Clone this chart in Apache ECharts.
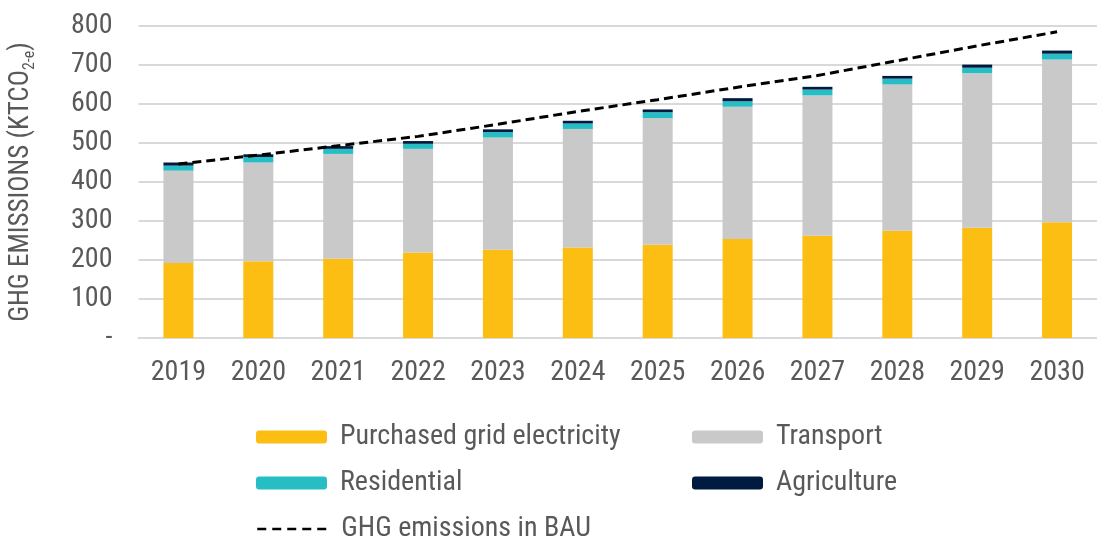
<!DOCTYPE html>
<html>
<head>
<meta charset="utf-8">
<script src="https://cdn.jsdelivr.net/npm/echarts@6/dist/echarts.min.js"></script>
<style>
html,body{margin:0;padding:0;background:#fff;}
#chart{width:1097px;height:542px;}
</style>
</head>
<body>
<div id="chart"></div>
<script>
const categories = ['2019','2020','2021','2022','2023','2024','2025','2026','2027','2028','2029','2030'];
const electricity = [192, 197, 203, 219, 226, 232, 239, 254, 262, 275, 283, 297];
const transport   = [237, 253, 269, 266, 288, 304, 325, 339, 360, 375, 396, 417];
const residential = [13, 14, 13, 13, 14, 14, 15, 14, 15, 15, 14, 15];
const agriculture = [8, 7, 7, 7, 7, 7, 7, 8, 7, 7, 8, 8];
const bau         = [446, 469, 493, 517, 548, 581, 611, 643, 673, 711, 749, 785];

const FONT = '"Liberation Sans Narrow", "Roboto Condensed", "DejaVu Sans Condensed", sans-serif';
const TXT = '#595959';

const chart = echarts.init(document.getElementById('chart'), null, {renderer: 'canvas'});

function bar(name, data, color) {
  return {
    name: name, type: 'bar', stack: 'total', data: data,
    barWidth: 30,
    itemStyle: {color: color},
    emphasis: {disabled: true}
  };
}

function legendAt(name, left, top, isLine) {
  const l = {
    data: [name], left: left, top: top,
    itemWidth: 71, itemHeight: isLine ? 14 : 13,
    padding: 0,
    textStyle: {fontFamily: FONT, fontSize: 28, color: TXT, padding: [0, 0, 0, 8]},
    selectedMode: false
  };
  if (isLine) {
    l.itemStyle = {opacity: 0};
    l.lineStyle = {color: '#000', width: 2.5, type: [9, 6]};
  }
  return l;
}

chart.setOption({
  animation: false,
  grid: {left: 134, right: -3, top: 26, bottom: 204, containLabel: false},
  legend: [
    legendAt('Purchased grid electricity', 256, 423),
    legendAt('Transport', 692, 423),
    legendAt('Residential', 256, 469),
    legendAt('Agriculture', 692, 469),
    legendAt('GHG emissions in BAU', 256, 515, true)
  ],
  xAxis: {
    type: 'category', data: categories,
    axisLine: {show: true, lineStyle: {color: '#D9D9D9', width: 2}},
    axisTick: {show: false},
    axisLabel: {fontFamily: FONT, fontSize: 28, color: TXT, margin: 21}
  },
  yAxis: {
    type: 'value', min: 0, max: 800, interval: 100,
    name: '{a|GHG EMISSIONS (KTCO}{s|2-e}{a|)}',
    nameLocation: 'middle', nameGap: 101, nameRotate: 90,
    nameTextStyle: {
      rich: {
        a: {fontFamily: FONT, fontSize: 27, color: TXT},
        s: {fontFamily: FONT, fontSize: 16, color: TXT, verticalAlign: 'bottom', padding: [16, 0, 0, 0]}
      }
    },
    axisLine: {show: false}, axisTick: {show: false},
    splitLine: {lineStyle: {color: '#D9D9D9', width: 2}},
    axisLabel: {
      fontFamily: FONT, fontSize: 28, color: TXT, margin: 26,
      formatter: v => v === 0 ? '-' : String(v)
    }
  },
  series: [
    bar('Purchased grid electricity', electricity, '#FDBE14'),
    bar('Transport', transport, '#C9C9C9'),
    bar('Residential', residential, '#27BDC4'),
    bar('Agriculture', agriculture, '#001A40'),
    {
      name: 'GHG emissions in BAU', type: 'line', data: bau,
      symbol: 'none', showSymbol: false,
      lineStyle: {color: '#000', width: 3, type: [9, 5]},
      itemStyle: {color: '#000'},
      emphasis: {disabled: true},
      z: 10
    }
  ]
});
</script>
</body>
</html>
